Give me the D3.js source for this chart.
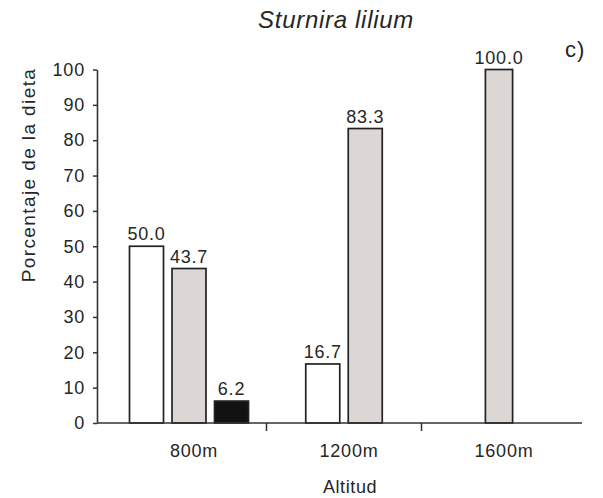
<!DOCTYPE html>
<html>
<head>
<meta charset="utf-8">
<script src="https://cdn.jsdelivr.net/npm/d3@7"></script>
<style>
  html, body { margin: 0; padding: 0; background: #fff; }
  svg { display: block; font-family: "Liberation Sans", Arial, sans-serif; }
  text { fill: #262626; }
</style>
</head>
<body>
<svg id="chart" width="603" height="498"></svg>
<script>
// Altitude classes on the x axis
const categories = ["800m", "1200m", "1600m"];
// Diet categories (percentage of diet per altitude); null = absent
const seriesNames = ["Categoría 1", "Categoría 2", "Categoría 3"];
const seriesWhite = [50.0, 16.7, null];
const seriesGrey = [43.7, 83.3, 100.0];
const seriesBlack = [6.2, null, null];
const seriesFills = ["#ffffff", "#dcd7d4", "#121212"];
const yTicks = [0, 10, 20, 30, 40, 50, 60, 70, 80, 90, 100];

const title = "Sturnira lilium";
const panelTag = "c)";
const yLabel = "Porcentaje de la dieta";
const xLabel = "Altitud";

const svg = d3.select("#chart");

const axisLeftX = 97;
const axisRightX = 582;
const yScale = d3.scaleLinear().domain([0, 100]).range([423, 69.5]);

const x0 = d3.scaleBand().domain(categories).range([111.5, 576.5]).padding(0);

// Rows of bar data built from the series arrays
const allSeries = [seriesWhite, seriesGrey, seriesBlack];
const groups = categories.map((cat, i) => {
  const bars = allSeries
    .map((s, k) => ({ key: seriesNames[k], fill: seriesFills[k], value: s[i] }))
    .filter(d => d.value !== null);
  return { cat, bars };
});

// Bars of a group sit side by side, centred on the group's band
const barStep = 42.5;
const barGap = 8.5;

const plot = svg.append("g");

groups.forEach(g => {
  const c = x0(g.cat) + x0.bandwidth() / 2;
  const n = g.bars.length;
  const w = n * barStep - barGap;
  const inner = d3.scaleBand()
    .domain(g.bars.map(d => d.key))
    .range([c - w / 2, c + w / 2])
    .paddingInner(barGap / barStep)
    .paddingOuter(0);

  const gg = plot.append("g");
  gg.selectAll("rect")
    .data(g.bars)
    .join("rect")
    .attr("x", d => inner(d.key))
    .attr("y", d => yScale(d.value))
    .attr("width", inner.bandwidth())
    .attr("height", d => yScale(0) - yScale(d.value))
    .attr("fill", d => d.fill)
    .attr("stroke", "#222")
    .attr("stroke-width", 1.7);

  gg.selectAll("text")
    .data(g.bars)
    .join("text")
    .attr("x", d => inner(d.key) + inner.bandwidth() / 2)
    .attr("y", d => yScale(d.value) - 6)
    .attr("text-anchor", "middle")
    .attr("font-size", 18)
    .attr("letter-spacing", 0.8)
    .text(d => d.value.toFixed(1));
});

// Y axis
const yAxis = d3.axisLeft(yScale)
  .tickValues(yTicks)
  .tickSize(4)
  .tickSizeOuter(0)
  .tickPadding(8)
  .tickFormat(d3.format("d"));
const yG = svg.append("g")
  .attr("transform", `translate(${axisLeftX},0)`)
  .call(yAxis);
yG.select(".domain").attr("stroke", "#333").attr("stroke-width", 1.6);
yG.selectAll(".tick line").attr("stroke", "#333").attr("stroke-width", 1.5);
yG.selectAll(".tick text")
  .attr("font-size", 18)
  .attr("letter-spacing", 0.8)
  .attr("fill", "#262626")
  .attr("font-family", "'Liberation Sans', Arial, sans-serif");

// X axis line and separators between altitude groups
svg.append("line")
  .attr("x1", axisLeftX).attr("x2", axisRightX)
  .attr("y1", yScale(0)).attr("y2", yScale(0))
  .attr("stroke", "#333").attr("stroke-width", 1.6);

svg.append("g").selectAll("line")
  .data(categories.slice(1))
  .join("line")
  .attr("x1", d => x0(d)).attr("x2", d => x0(d))
  .attr("y1", yScale(0)).attr("y2", yScale(0) + 8)
  .attr("stroke", "#333").attr("stroke-width", 1.5);

svg.append("g").selectAll("text")
  .data(categories)
  .join("text")
  .attr("x", d => x0(d) + x0.bandwidth() / 2 + 5)
  .attr("y", 457)
  .attr("text-anchor", "middle")
  .attr("font-size", 18)
  .attr("letter-spacing", 0.8)
  .text(d => d);

// Axis titles
svg.append("text")
  .attr("x", 350).attr("y", 493)
  .attr("text-anchor", "middle")
  .attr("font-size", 18)
  .attr("letter-spacing", 0.6)
  .text(xLabel);

svg.append("text")
  .attr("transform", "translate(35,175) rotate(-90)")
  .attr("text-anchor", "middle")
  .attr("font-size", 19)
  .attr("letter-spacing", 1.4)
  .text(yLabel);

// Title and panel tag
svg.append("text")
  .attr("x", 336).attr("y", 28)
  .attr("text-anchor", "middle")
  .attr("font-size", 24)
  .attr("font-style", "italic")
  .attr("letter-spacing", 0.7)
  .text(title);

svg.append("text")
  .attr("x", 565).attr("y", 57)
  .attr("font-size", 22)
  .attr("letter-spacing", 1)
  .text(panelTag);
</script>
</body>
</html>
